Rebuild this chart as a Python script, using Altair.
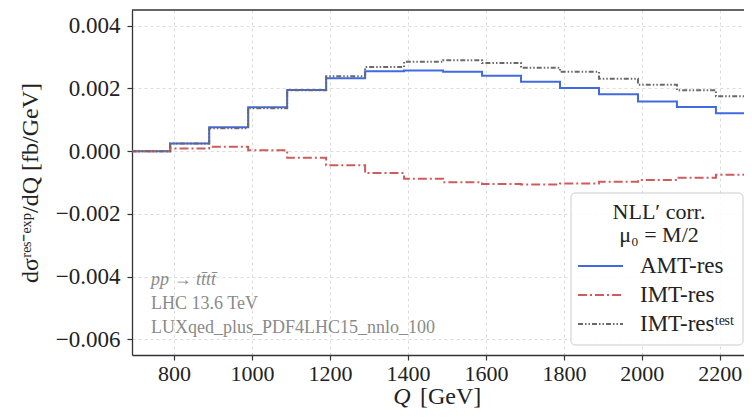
import altair as alt
import pandas as pd

# bin edges (GeV) and per-bin values (fb/GeV)
edges = [690, 790, 890, 990, 1090, 1190, 1290, 1390, 1490, 1590, 1690, 1790, 1890, 1990, 2090, 2190, 2290]
amt_res = [0.0, 0.000244, 0.00076, 0.00140, 0.00195, 0.00232, 0.00255, 0.00257, 0.00253, 0.00240,
           0.00221, 0.00201, 0.00181, 0.00158, 0.00141, 0.00121]
imt_res = [0.0, 0.000086, 0.00014, 0.00003, -0.00021, -0.00045, -0.00070, -0.00088, -0.00099, -0.00105,
           -0.00106, -0.00103, -0.00098, -0.00092, -0.00085, -0.00075]
imt_test = [0.0, 0.00024, 0.00073, 0.00137, 0.00194, 0.00239, 0.00268, 0.00285, 0.00290, 0.00281,
            0.00266, 0.00253, 0.00231, 0.00212, 0.00194, 0.00175]

x_ticks = [800, 1000, 1200, 1400, 1600, 1800, 2000, 2200]
y_ticks = [-0.006, -0.004, -0.002, 0.0, 0.002, 0.004]

series_names = ["AMT-res", "IMT-res", "IMT-res\u1d57\u1d49\u02e2\u1d57"]
series_colors = ["#4169e1", "#cd5c5c", "#696969"]
series_dash = [[1, 0], [9, 3, 2, 3], [5, 2, 1.5, 2, 1.5, 2]]

FONT = "Liberation Serif"
W, H = 612, 345


def step_df(vals):
    return pd.DataFrame({"Q": edges, "v": list(vals) + [vals[-1]]})


xscale = alt.Scale(domain=[692, 2262], nice=False, zero=False)
yscale = alt.Scale(domain=[-0.0065, 0.0045], nice=False, zero=False)

xaxis = alt.Axis(values=x_ticks, format="d", title=None,
                 labelFont=FONT, labelFontSize=22,
                 grid=True, gridDash=[3, 3], gridColor="#dddddd",
                 tickSize=5, labelPadding=3)
yaxis = alt.Axis(values=y_ticks, format=".3f",
                 title="d\u03c3\u02b3\u1d49\u02e2\u207b\u1d49\u02e3\u1d56/dQ [fb/GeV]",
                 labelFont=FONT, labelFontSize=23, titleFont=FONT, titleFontSize=24,
                 grid=True, gridDash=[3, 3], gridColor="#dddddd",
                 tickSize=5, labelPadding=7, titleX=-102, titleY=H / 2,
                 titleBaseline="middle", titleAlign="center")

layers = []
data_sets = [amt_res, imt_res, imt_test]
for i, vals in enumerate(data_sets):
    layers.append(
        alt.Chart(step_df(vals)).mark_line(
            interpolate="step-after", color=series_colors[i], strokeWidth=2,
            strokeDash=series_dash[i], clip=True
        ).encode(
            x=alt.X("Q:Q", scale=xscale, axis=xaxis),
            y=alt.Y("v:Q", scale=yscale, axis=yaxis),
        )
    )

one = alt.Data(values=[{"k": 1}])

# top spine
layers.append(alt.Chart(one).mark_rule(color="#333333", strokeWidth=1.3).encode(
    x=alt.value(0), x2=alt.value(W), y=alt.value(0)))

# x-axis title: italic Q, upright unit
layers.append(alt.Chart(one).mark_text(
    text="Q", font=FONT, fontSize=24, fontStyle="italic", color="#222222",
    align="center", baseline="alphabetic"
).encode(x=alt.value(270), y=alt.value(H + 49)))
layers.append(alt.Chart(one).mark_text(
    text="[GeV]", font=FONT, fontSize=24, color="#222222",
    align="left", baseline="alphabetic"
).encode(x=alt.value(288), y=alt.value(H + 49)))

# annotation
ann_lines = ["pp \u2192 tt\u0304tt\u0304", "LHC 13.6 TeV", "LUXqed_plus_PDF4LHC15_nnlo_100"]
ann_y = [270, 294, 318]
for j, t in enumerate(ann_lines):
    layers.append(alt.Chart(one).mark_text(
        text=t, font=FONT, fontSize=18, color="#8a8a8a", align="left", baseline="middle",
        fontStyle="italic" if j == 0 else "normal"
    ).encode(x=alt.value(19), y=alt.value(ann_y[j])))

# legend box
layers.append(alt.Chart(one).mark_rect(
    fill="white", fillOpacity=0.85, stroke="#cccccc", strokeWidth=1, cornerRadius=4
).encode(x=alt.value(439), x2=alt.value(611), y=alt.value(183), y2=alt.value(335)))

legend_title = ["NLL\u2032 corr.", "\u03bc\u2080 = M/2"]
for j, t in enumerate(legend_title):
    layers.append(alt.Chart(one).mark_text(
        text=t, font=FONT, fontSize=22, color="#222222", align="center", baseline="middle"
    ).encode(x=alt.value(527), y=alt.value(202 + 23 * j)))

entry_y = [256, 285, 314]
for i, name in enumerate(series_names):
    layers.append(alt.Chart(one).mark_rule(
        color=series_colors[i], strokeWidth=2, strokeDash=series_dash[i]
    ).encode(x=alt.value(446), x2=alt.value(491), y=alt.value(entry_y[i])))
    layers.append(alt.Chart(one).mark_text(
        text=name, font=FONT, fontSize=23, color="#222222", align="left", baseline="middle"
    ).encode(x=alt.value(508), y=alt.value(entry_y[i])))

chart = alt.layer(*layers).properties(
    width=W, height=H,
    autosize=alt.AutoSizeParams(type="none"),
    padding={"left": 124, "top": 2, "right": 0, "bottom": 55},
).configure_view(stroke=None).configure_axis(
    labelFont=FONT, titleFont=FONT, labelFontSize=23, titleFontSize=24,
    labelColor="#222222", titleColor="#222222", titleFontWeight="normal",
    domainColor="#333333", domainWidth=1.3, tickColor="#333333", tickWidth=1.2,
)

chart.save("out.html", embed_options={"renderer": "svg", "actions": False})
